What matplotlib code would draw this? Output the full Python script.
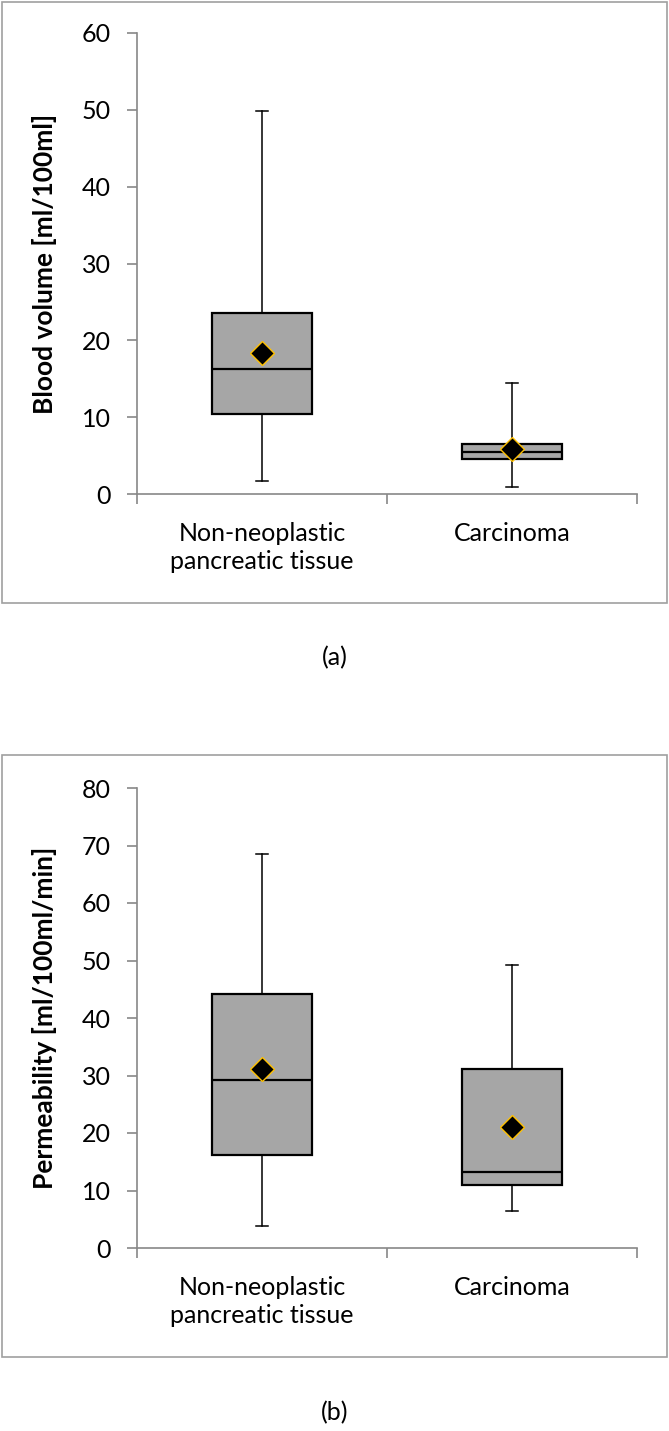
import matplotlib
matplotlib.use("Agg")
import matplotlib.pyplot as plt
from matplotlib.patches import Rectangle

plt.rcParams['font.family'] = ['Lato', 'DejaVu Sans']

groups = ['Non-neoplastic\npancreatic tissue', 'Carcinoma']

# panel (a): blood volume [ml/100ml]
bv_low = [1.7, 0.9]
bv_q1 = [10.4, 4.6]
bv_med = [16.3, 5.5]
bv_q3 = [23.5, 6.5]
bv_high = [49.9, 14.5]
bv_mean = [18.4, 5.8]

# panel (b): permeability [ml/100ml/min]
pm_low = [3.8, 6.4]
pm_q1 = [16.1, 11.0]
pm_med = [29.3, 13.2]
pm_q3 = [44.1, 31.1]
pm_high = [68.5, 49.3]
pm_mean = [31.2, 21.0]

W, H = 669, 1431
fig = plt.figure(figsize=(W / 100, H / 100), dpi=100)

axis_col = '#888888'
fs = 18


def panel(ax, low, q1, med, q3, high, mean, ymax, ylabel):
    stats = []
    for i in range(len(groups)):
        stats.append(dict(whislo=low[i], q1=q1[i], med=med[i], q3=q3[i],
                          whishi=high[i], mean=mean[i], fliers=[]))
    ax.bxp(stats, positions=[1, 2], widths=0.4, patch_artist=True,
           showmeans=True, showfliers=False,
           boxprops=dict(facecolor='#A6A6A6', edgecolor='black', linewidth=1.6),
           medianprops=dict(color='black', linewidth=1.6),
           whiskerprops=dict(color='black', linewidth=1.1),
           capprops=dict(color='black', linewidth=1.1),
           capwidths=0.05,
           meanprops=dict(marker='D', markerfacecolor='black',
                          markeredgecolor='#FFC000', markersize=12,
                          markeredgewidth=1.0))
    ax.set_xlim(0.5, 2.5)
    ax.set_ylim(0, ymax)
    ax.set_yticks(range(0, ymax + 1, 10))
    ax.set_xticks([1, 2])
    ax.set_xticklabels(groups, fontsize=fs, linespacing=1.3)
    ax.set_xticks([0.5, 1.5, 2.5], minor=True)
    ax.tick_params(axis='x', which='major', length=0, pad=20)
    ax.tick_params(axis='x', which='minor', length=7, color=axis_col, width=1.2)
    ax.tick_params(axis='y', length=7, color=axis_col, width=1.2, labelsize=fs, pad=12)
    for s in ['top', 'right']:
        ax.spines[s].set_visible(False)
    for s in ['left', 'bottom']:
        ax.spines[s].set_color(axis_col)
        ax.spines[s].set_linewidth(1.2)
    ax.set_ylabel(ylabel, fontsize=19, fontweight='bold')
    ax.yaxis.set_label_coords(-0.16, 0.5)


ax1 = fig.add_axes([137 / W, 1 - 494 / H, 500 / W, 461 / H])
panel(ax1, bv_low, bv_q1, bv_med, bv_q3, bv_high, bv_mean, 60,
      'Blood volume [ml/100ml]')

ax2 = fig.add_axes([137 / W, 1 - 1248 / H, 500 / W, 460 / H])
panel(ax2, pm_low, pm_q1, pm_med, pm_q3, pm_high, pm_mean, 80,
      'Permeability [ml/100ml/min]')

# panel frames
for top, bot in [(2, 603), (755, 1357)]:
    fig.patches.append(Rectangle((2 / W, 1 - bot / H), 665 / W, (bot - top) / H,
                                 transform=fig.transFigure, fill=False,
                                 edgecolor='#A0A0A0', linewidth=1.2))

fig.text(0.5, 1 - 658 / H, '(a)', ha='center', va='center', fontsize=fs)
fig.text(0.5, 1 - 1413 / H, '(b)', ha='center', va='center', fontsize=fs)

fig.savefig('out.png', dpi=100, facecolor='white')
